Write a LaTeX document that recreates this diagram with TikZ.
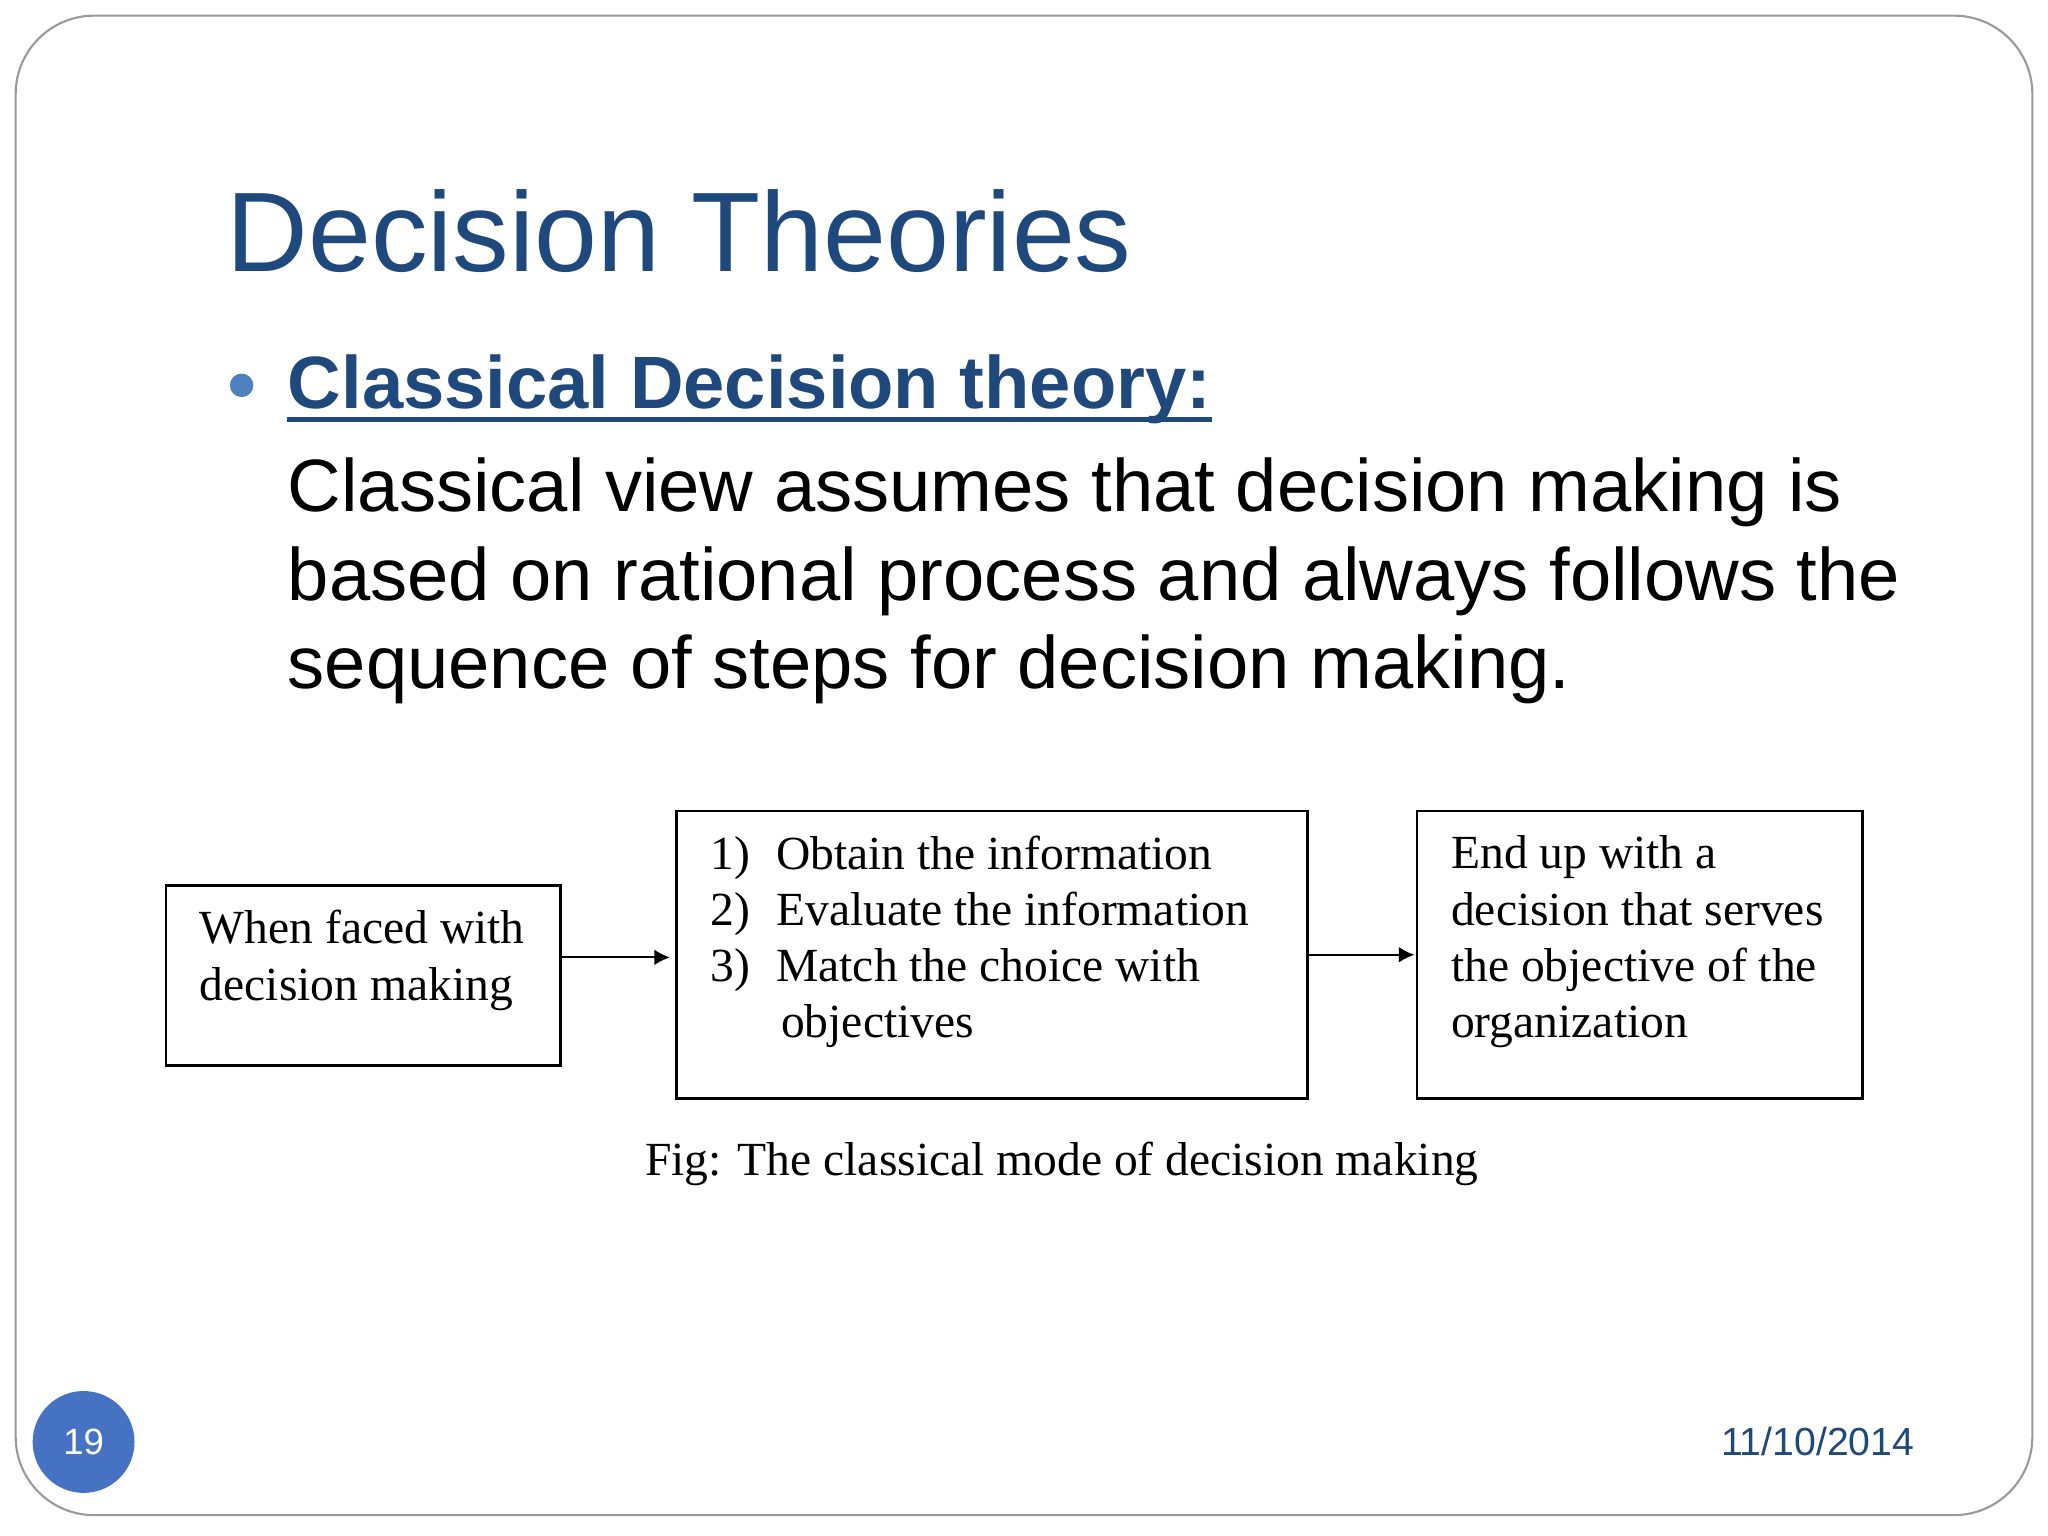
\documentclass[tikz,border=0pt]{standalone}
\usepackage{fontspec}
\setmainfont{Liberation Sans}
\newfontfamily\serifx{Liberation Serif}
\usetikzlibrary{arrows.meta}
\definecolor{titleblue}{RGB}{31,73,125}
\definecolor{bulletblue}{RGB}{79,129,189}
\definecolor{circblue}{RGB}{70,114,196}
\tikzset{
 px/.style={x=0.5pt,y=-0.5pt},
 fbox/.style={draw,line width=1pt,inner sep=0pt},
 btext/.style={font=\serifx\fontsize{18.2}{21.5}\selectfont,align=left,anchor=north west},
 conn/.style={-{Latex[length=6pt,width=6pt]},line width=0.8pt},
 body/.style={font=\fontsize{28.4}{34}\selectfont,anchor=base west,inner sep=0pt}
}
\begin{document}
\begin{tikzpicture}[px]
\useasboundingbox (0,0) rectangle (1568,1176);
\draw[gray!80,line width=0.8pt,rounded corners=30pt] (12,12) rectangle (1556,1160);
\node[anchor=base west,inner sep=0pt,text=titleblue,font=\fontsize{43.3}{50}\selectfont] (title) at (173,208) {Decision Theories};
\fill[bulletblue] (185,295) circle (9);
\node[anchor=base west,inner sep=0pt,text=titleblue,font=\bfseries\fontsize{28.4}{34}\selectfont] (sub) at (220,313) {Classical Decision theory:};
\draw[titleblue,line width=1.8pt] (sub.base west)++(0,8) -- ([yshift=-4pt]sub.base east);
\node[body] (l1) at (220,392) {Classical view assumes that decision making is};
\node[body] (l2) at (220,460) {based on rational process and always follows the};
\node[body] (l3) at (220,527) {sequence of steps for decision making.};
\draw[fbox] (127,678) rectangle (429,816);
\draw[fbox] (518,621) rectangle (1001,841);
\draw[fbox] (1085,621) rectangle (1426,841);
\coordinate (b1r) at (429,733); \coordinate (b2l) at (513,733);
\coordinate (b2r) at (1001,731); \coordinate (b3l) at (1083,731);
\node[btext] (t1) at (146,690) {When faced with\\decision making};
\node[btext] (t2) at (537,633) {1)\hspace{10pt}Obtain the information\\2)\hspace{10pt}Evaluate the information\\3)\hspace{10pt}Match the choice with\\\hspace{27pt}objectives};
\node[btext] (t3) at (1104,633) {End up with a\\decision that serves\\the objective of the\\organization};
\draw[conn] (b1r) -- (b2l);
\draw[conn] (b2r) -- (b3l);
\node[font=\serifx\fontsize{18.2}{20}\selectfont,anchor=base] (cap) at (813,900) {Fig: The classical mode of decision making};
\fill[circblue] (64,1104) circle (39);
\node[text=white,font=\fontsize{14}{16}\selectfont] (pg) at (64,1104) {19};
\node[anchor=east,inner sep=0pt,text=titleblue,font=\fontsize{15}{18}\selectfont] (date) at (1466,1104) {11/10/2014};
\end{tikzpicture}
\end{document}
